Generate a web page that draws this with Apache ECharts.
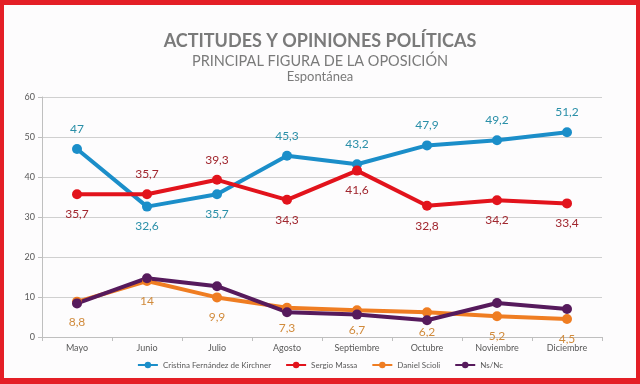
<!DOCTYPE html>
<html>
<head>
<meta charset="utf-8">
<script src="https://cdn.jsdelivr.net/npm/echarts@6/dist/echarts.min.js"></script>
<style>
html,body{margin:0;padding:0;background:#fff;}
#wrap{position:relative;width:640px;height:384px;}
#chart{position:absolute;left:0;top:0;width:640px;height:384px;background:#fdfcfd;}
#frame{position:absolute;left:0;top:0;width:640px;height:384px;box-sizing:border-box;border-style:solid;border-color:#e41f26;border-width:5px 4px 6px 4px;pointer-events:none;}
</style>
</head>
<body>
<div id="wrap"><div id="chart"></div><div id="frame"></div></div>
<script>
const months = ['Mayo','Junio','Julio','Agosto','Septiembre','Octubre','Noviembre','Diciembre'];
const cfk = [47, 32.6, 35.7, 45.3, 43.2, 47.9, 49.2, 51.2];
const massa = [35.7, 35.7, 39.3, 34.3, 41.6, 32.8, 34.2, 33.4];
const scioli = [8.8, 14, 9.9, 7.3, 6.7, 6.2, 5.2, 4.5];
const nsnc = [8.4, 14.7, 12.7, 6.2, 5.6, 4.2, 8.5, 7.0];
const yTicks = [0, 10, 20, 30, 40, 50, 60];

const FONT = 'Lato, "Open Sans", sans-serif';
const fmt = v => String(v).replace('.', ',');

function mk(name, vals, color, labelColor, aboveIdx, showLabels) {
  return {
    name: name,
    type: 'line',
    data: vals.map((v, i) => ({
      value: v,
      label: {
        show: showLabels,
        position: aboveIdx.indexOf(i) >= 0 ? 'top' : 'bottom'
      }
    })),
    symbol: 'circle',
    symbolSize: 10,
    lineStyle: { width: 4, color: color },
    itemStyle: { color: color },
    label: {
      show: showLabels,
      distance: 9,
      fontSize: 12,
      fontFamily: FONT,
      color: labelColor,
      formatter: p => fmt(p.value)
    },
    emphasis: { disabled: true },
    animation: false
  };
}

const chart = echarts.init(document.getElementById('chart'));
chart.setOption({
  animation: false,
  title: [
    { text: 'ACTITUDES Y OPINIONES POLÍTICAS', left: 'center', top: 27,
      textStyle: { fontSize: 18, fontWeight: 'bold', color: '#7a7a7a', fontFamily: FONT } },
    { text: 'PRINCIPAL FIGURA DE LA OPOSICIÓN', left: 'center', top: 49,
      textStyle: { fontSize: 14.5, fontWeight: 'normal', color: '#7a7a7a', fontFamily: FONT } },
    { text: 'Espontánea', left: 'center', top: 65,
      textStyle: { fontSize: 13, fontWeight: 'normal', color: '#7a7a7a', fontFamily: FONT } }
  ],
  legend: {
    bottom: 10,
    left: 'center',
    itemWidth: 20,
    itemHeight: 8,
    itemGap: 14,
    textStyle: { fontSize: 8, color: '#595959', fontFamily: FONT },
    data: ['Cristina Fernández de Kirchner', 'Sergio Massa', 'Daniel Scioli', 'Ns/Nc']
  },
  grid: { left: 42, right: 38, top: 97, bottom: 47, containLabel: false },
  xAxis: {
    type: 'category',
    data: months,
    boundaryGap: true,
    axisLine: { lineStyle: { color: '#bfbfbf', width: 1 } },
    axisTick: { show: true, length: 4, lineStyle: { color: '#bfbfbf' } },
    axisLabel: { fontSize: 9, color: '#595959', fontFamily: FONT, margin: 7 }
  },
  yAxis: {
    type: 'value',
    min: yTicks[0],
    max: yTicks[yTicks.length - 1],
    interval: 10,
    axisLine: { show: true, lineStyle: { color: '#bfbfbf', width: 1 } },
    axisTick: { show: true, length: 4, lineStyle: { color: '#bfbfbf' } },
    splitLine: { lineStyle: { color: '#d0d0d0', width: 1 } },
    axisLabel: { fontSize: 9, color: '#595959', fontFamily: FONT, margin: 7 }
  },
  series: [
    mk('Cristina Fernández de Kirchner', cfk, '#1b8ec9', '#2a8fa8', [0, 3, 4, 5, 6, 7], true),
    mk('Sergio Massa', massa, '#e2131c', '#a0262e', [1, 2], true),
    mk('Daniel Scioli', scioli, '#ef7d22', '#d18b3c', [], true),
    mk('Ns/Nc', nsnc, '#561a5c', '#561a5c', [], false)
  ]
});
</script>
</body>
</html>
